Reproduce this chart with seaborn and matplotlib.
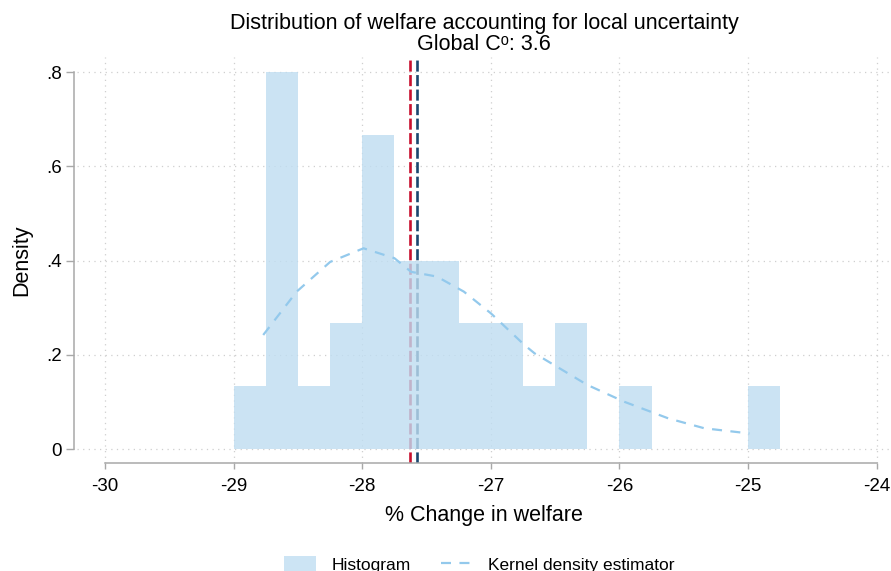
import numpy as np
import matplotlib
matplotlib.use("Agg")
import matplotlib.pyplot as plt
import seaborn as sns
from matplotlib.patches import Patch
from matplotlib.lines import Line2D

# Histogram bins (% change in welfare) and counts per bin
bin_edges = [-29.0, -28.75, -28.5, -28.25, -28.0, -27.75, -27.5, -27.25, -27.0,
             -26.75, -26.5, -26.25, -26.0, -25.75, -25.5, -25.25, -25.0, -24.75]
bin_counts = [1, 6, 1, 2, 5, 3, 3, 2, 2, 1, 2, 0, 1, 0, 0, 0, 1]

# Kernel density estimate of the same distribution
kde_x = [-28.77, -28.51, -28.25, -27.99, -27.75, -27.62, -27.42, -27.21, -27.0,
         -26.74, -26.66, -26.25, -25.96, -25.62, -25.34, -24.99]
kde_y = [0.242, 0.334, 0.397, 0.426, 0.405, 0.376, 0.366, 0.334, 0.288,
         0.221, 0.203, 0.136, 0.100, 0.065, 0.044, 0.033]

# Reference lines
ref_red = -27.628
ref_navy = -27.576

x_ticks = [-30, -29, -28, -27, -26, -25, -24]
x_tick_labels = ["-30", "-29", "-28", "-27", "-26", "-25", "-24"]
y_ticks = [0, 0.2, 0.4, 0.6, 0.8]
y_tick_labels = ["0", ".2", ".4", ".6", ".8"]

sns.set_theme(style="white")
plt.rcParams["font.family"] = ["Liberation Sans", "DejaVu Sans"]
plt.rcParams["text.color"] = "black"
plt.rcParams["axes.labelcolor"] = "black"

fig = plt.figure(figsize=(8.91, 5.71), dpi=100)
ax = fig.add_axes([0.0864, 0.1897, 0.9136, 0.7105])

hist_color = "#bfddf1"
kde_color = "#93c9ec"
red = "#c8102e"
navy = "#1a476f"

centers = [(a + b) / 2 for a, b in zip(bin_edges[:-1], bin_edges[1:])]
sns.histplot(x=centers, weights=bin_counts, bins=bin_edges, stat="density",
             color=hist_color, alpha=0.8, edgecolor="none", linewidth=0,
             ax=ax, zorder=3)

ax.axvline(ref_red, color=red, lw=1.9, dashes=(4.2, 1.3), zorder=2)
ax.axvline(ref_navy, color=navy, lw=1.9, dashes=(4.2, 1.3), zorder=2)

sns.lineplot(x=kde_x, y=kde_y, color=kde_color, linewidth=1.6, ax=ax, zorder=4)
ax.lines[-1].set_dashes((4.5, 3.8))

ax.set_xlim(-30.218, -23.889)
ax.set_ylim(-0.029, 0.832)

ax.set_xticks(x_ticks)
ax.set_xticklabels(x_tick_labels)
ax.set_yticks(y_ticks)
ax.set_yticklabels(y_tick_labels)

ax.grid(True, color="#cfcfcf", linestyle=(0, (1, 3.5)), linewidth=0.9, zorder=0)
ax.set_axisbelow(True)

for side in ["top", "right"]:
    ax.spines[side].set_visible(False)
ax.spines["left"].set_position(("outward", 2))
ax.spines["left"].set_bounds(0, 0.8)
ax.spines["bottom"].set_bounds(-30, -24)
for side in ["left", "bottom"]:
    ax.spines[side].set_color("#a8a8a8")
    ax.spines[side].set_linewidth(1.1)

ax.tick_params(axis="y", direction="out", length=6, width=1.0, color="#a8a8a8",
               labelsize=13.5, labelcolor="black", left=True, pad=3)
ax.tick_params(axis="x", direction="out", length=4, width=1.0, color="#a8a8a8",
               labelsize=13.5, labelcolor="black", bottom=True, pad=7)

ax.set_xlabel("% Change in welfare", fontsize=15.5, labelpad=7, color="black")
ax.set_ylabel("Density", fontsize=15.5, labelpad=10, color="black")
ax.set_title("Distribution of welfare accounting for local uncertainty\nGlobal C\u1d52: 3.6",
             fontsize=15.5, linespacing=1.0, pad=5, color="black")

handles = [Patch(facecolor="#cce4f4", edgecolor="none", label="Histogram"),
           Line2D([0], [0], color=kde_color, lw=1.6, dashes=(4.5, 3.8),
                  label="Kernel density estimator")]
fig.legend(handles=handles, loc="center", bbox_to_anchor=(0.538, 0.012), ncol=2,
           frameon=False, fontsize=12.5, handlelength=1.8, handletextpad=0.9,
           columnspacing=1.75, handleheight=1.0, labelcolor="black")

fig.savefig("out.png", dpi=100)
